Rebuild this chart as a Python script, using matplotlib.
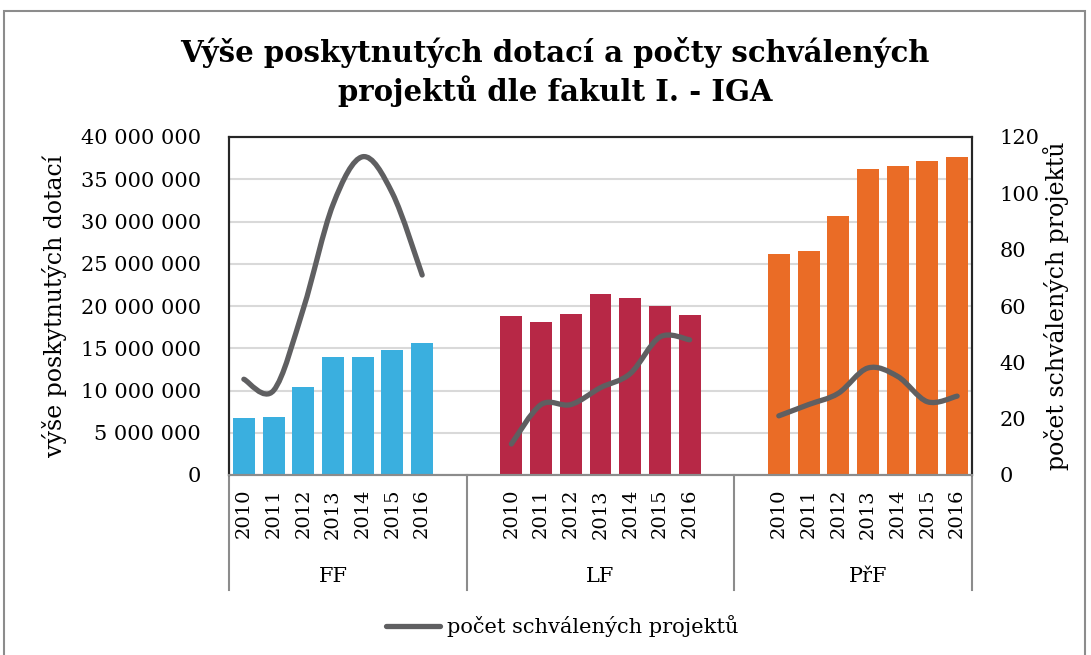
import numpy as np
import matplotlib
matplotlib.use("Agg")
import matplotlib.pyplot as plt
from matplotlib.path import Path
from matplotlib.patches import PathPatch, Rectangle
from matplotlib.lines import Line2D
import matplotlib.transforms as mtransforms

plt.rcParams['font.family'] = ['DejaVu Serif']

# data
faculties = ['FF', 'LF', 'PřF']
years = ['2010', '2011', '2012', '2013', '2014', '2015', '2016']
ff_dotace = [6.75e6, 6.86e6, 10.4e6, 13.96e6, 13.96e6, 14.8e6, 15.6e6]
lf_dotace = [18.8e6, 18.1e6, 19.05e6, 21.4e6, 20.9e6, 20.0e6, 18.9e6]
prf_dotace = [26.2e6, 26.5e6, 30.65e6, 36.2e6, 36.6e6, 37.2e6, 37.6e6]
ff_projekty = [34, 30, 59, 96, 113, 100, 71]
lf_projekty = [11, 25, 25, 31, 36, 49, 48]
prf_projekty = [21, 25, 29, 38, 35, 26, 28]

colors = ['#3AAFDF', '#B72846', '#EA6C26']
line_color = '#5F5F61'

W, H = 1091, 655
fig = plt.figure(figsize=(W / 100, H / 100), dpi=100)
fig.patches.append(Rectangle((4 / W, -0.05), 1081 / W, 1 - 11 / H + 0.05,
                             transform=fig.transFigure, fill=False,
                             edgecolor='#8C8C8C', linewidth=1.5))

left, right, top, bottom = 229, 972, 137, 475
ax = fig.add_axes([left / W, 1 - bottom / H, (right - left) / W, (bottom - top) / H])
ax2 = ax.twinx()

starts = [0, 9, 18]
dotace = [ff_dotace, lf_dotace, prf_dotace]
projekty = [ff_projekty, lf_projekty, prf_projekty]

xt, xl = [], []
for s, vals, c in zip(starts, dotace, colors):
    xs = np.arange(s, s + len(vals))
    ax.bar(xs, vals, width=0.74, color=c, zorder=2)
    xt += list(xs)
    xl += years


def smooth_path(xs, ys):
    # Excel-like smoothed line (Catmull-Rom as bezier)
    pts = np.column_stack([xs, ys]).astype(float)
    n = len(pts)
    verts = [pts[0]]
    codes = [Path.MOVETO]
    for i in range(n - 1):
        p0 = pts[max(i - 1, 0)]
        p1 = pts[i]
        p2 = pts[i + 1]
        p3 = pts[min(i + 2, n - 1)]
        c1 = p1 + (p2 - p0) / 6
        c2 = p2 - (p3 - p1) / 6
        verts += [c1, c2, p2]
        codes += [Path.CURVE4] * 3
    return Path(verts, codes)


for s, vals in zip(starts, projekty):
    xs = np.arange(s, s + len(vals))
    ax2.add_patch(PathPatch(smooth_path(xs, vals), fill=False, edgecolor=line_color,
                            linewidth=3.8, capstyle='round', joinstyle='round', zorder=3))

ax.set_xlim(-0.5, 24.5)
ax.set_ylim(0, 40e6)
ax2.set_ylim(0, 120)
ax.set_yticks(np.arange(0, 40e6 + 1, 5e6))
ax.set_yticklabels(['0' if v == 0 else f'{int(v):,}'.replace(',', ' ') for v in np.arange(0, 40e6 + 1, 5e6)])
ax2.set_yticks(np.arange(0, 121, 20))
ax.grid(axis='y', color='#D9D9D9', linewidth=1.5, zorder=0)
ax.set_axisbelow(True)

ax.set_xticks(xt)
ax.set_xticklabels(xl, rotation=90, fontsize=14)
ax.tick_params(axis='x', length=0, pad=10)
ax.tick_params(axis='y', length=0, labelsize=15, pad=20)
ax2.tick_params(axis='y', length=0, labelsize=15, pad=20)

for a in (ax, ax2):
    for sp in ('top', 'left', 'right'):
        a.spines[sp].set_color('#262626')
        a.spines[sp].set_linewidth(1.5)
    a.spines['bottom'].set_color('#8C8C8C')
    a.spines['bottom'].set_linewidth(1.5)

ax.set_ylabel('výše poskytnutých dotací', fontsize=17, labelpad=10)
ax2.set_ylabel('počet schválených projektů', fontsize=17, labelpad=2)

# category groups
trans = mtransforms.blended_transform_factory(ax.transData, ax.transAxes)
depth = -(590 - bottom) / (bottom - top)
for b in [-0.5, 7.5, 16.5, 24.5]:
    ax.plot([b, b], [0, depth], transform=trans, color='#8C8C8C', linewidth=1.5, clip_on=False)
group_y = -(577 - bottom) / (bottom - top)
for name, s in zip(faculties, starts):
    ax.text(s + 3, group_y, name, transform=trans, ha='center', va='center', fontsize=15)

fig.text(555 / W, 1 - 52 / H, 'Výše poskytnutých dotací a počty schválených',
         ha='center', va='center', fontsize=21, fontweight='bold')
fig.text(555 / W, 1 - 91 / H, 'projektů dle fakult I. - IGA',
         ha='center', va='center', fontsize=21, fontweight='bold')

handle = Line2D([], [], color=line_color, linewidth=3.8, solid_capstyle='round')
fig.legend(handles=[handle], labels=['počet schválených projektů'], loc='center',
           bbox_to_anchor=(562 / W, 1 - 626 / H), frameon=False, fontsize=15,
           handlelength=2.6, handletextpad=0.3)

fig.savefig('out.png', dpi=100)
